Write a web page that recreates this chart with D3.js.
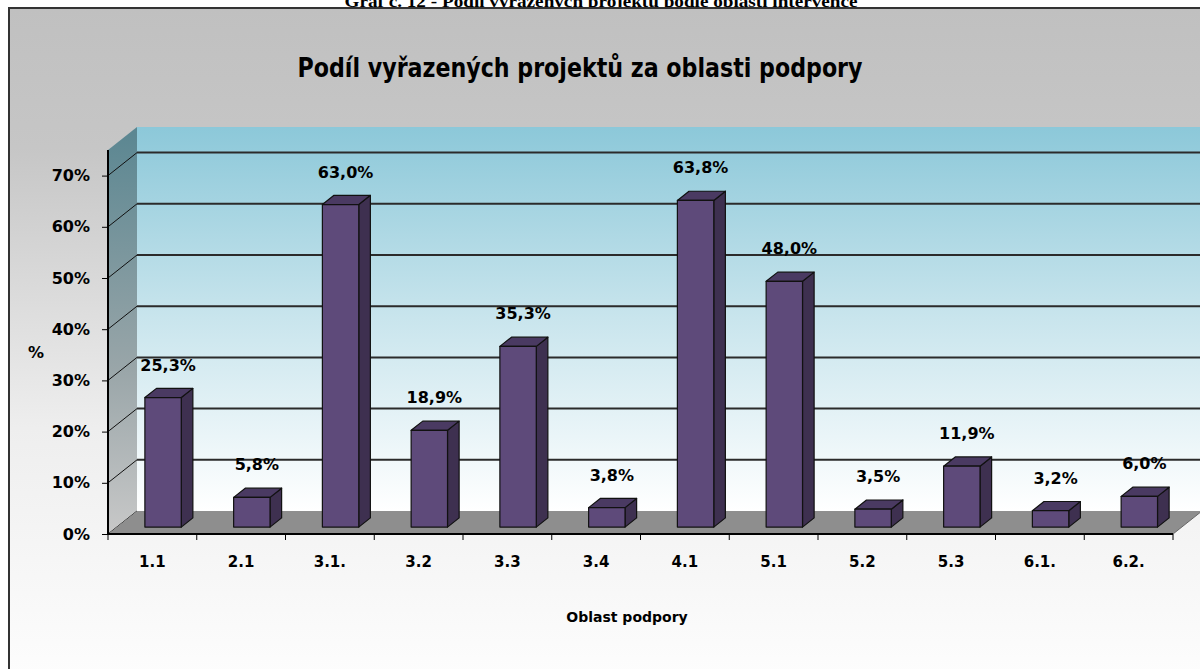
<!DOCTYPE html>
<html>
<head>
<meta charset="utf-8">
<script src="https://cdn.jsdelivr.net/npm/d3@7"></script>
<style>
  body { margin: 0; background: #fff; }
  svg { display: block; }
  text { font-family: "DejaVu Sans", Verdana, sans-serif; font-weight: bold; fill: #000; }
</style>
</head>
<body>
<svg id="chart" width="1200" height="669"></svg>
<script>
// data
var categories = ["1.1", "2.1", "3.1.", "3.2", "3.3", "3.4", "4.1", "5.1", "5.2", "5.3", "6.1.", "6.2."];
var values = [0.253, 0.058, 0.630, 0.189, 0.353, 0.038, 0.638, 0.480, 0.035, 0.119, 0.032, 0.060];
var valueLabels = ["25,3%", "5,8%", "63,0%", "18,9%", "35,3%", "3,8%", "63,8%", "48,0%", "3,5%", "11,9%", "3,2%", "6,0%"];
var yTicks = [0, 0.1, 0.2, 0.3, 0.4, 0.5, 0.6, 0.7];
var yMax = 0.75;

var svg = d3.select("#chart");
var defs = svg.append("defs");

function grad(id, stops) {
  var g = defs.append("linearGradient").attr("id", id)
    .attr("x1", 0).attr("y1", 0).attr("x2", 0).attr("y2", 1);
  stops.forEach(function(s) {
    g.append("stop").attr("offset", s[0]).attr("stop-color", s[1]);
  });
}
grad("bgGrad", [[0, "#c0c0c0"], [0.2, "#c6c6c6"], [0.6, "#eeeeee"], [1, "#ffffff"]]);
grad("wallGrad", [[0, "#8cc8d9"], [0.5, "#c9e5ed"], [1, "#ffffff"]]);
grad("sideGrad", [[0, "#5a8691"], [0.6, "#9aa6a9"], [1, "#c8c8c8"]]);

// caption above the chart frame (cut at the top, as in the source)
svg.append("text")
  .attr("x", 601).attr("y", 7)
  .attr("text-anchor", "middle")
  .style("font-family", "'Liberation Serif', 'Times New Roman', serif")
  .style("font-size", "17px")
  .attr("textLength", 513).attr("lengthAdjust", "spacingAndGlyphs")
  .text("Graf č. 12 - Podíl vyřazených projektů podle oblasti intervence");

// chart frame
svg.append("rect")
  .attr("x", 9).attr("y", 8)
  .attr("width", 1200).attr("height", 700)
  .attr("fill", "url(#bgGrad)")
  .attr("stroke", "#333").attr("stroke-width", 2);

svg.append("text")
  .attr("x", 580).attr("y", 77)
  .attr("text-anchor", "middle")
  .style("font-size", "26px")
  .attr("textLength", 565).attr("lengthAdjust", "spacingAndGlyphs")
  .text("Podíl vyřazených projektů za oblasti podpory");

var left = 108, right = 1173, bottom = 534;
var depth = {dx: 29, dy: -23};

var x = d3.scaleBand().domain(categories).range([left, right]);
var y = d3.scaleLinear().domain([0, yMax]).range([bottom, bottom - 7.5 * 51.2]);

function pt(px, py, f) {
  return [px + f * depth.dx, py + f * depth.dy];
}
function poly(pts) {
  return pts.map(function(p) { return p.join(","); }).join(" ");
}

// back wall
var wTop = pt(left, y(yMax), 1), wBot = pt(left, y(0), 1);
svg.append("rect")
  .attr("x", wTop[0]).attr("y", wTop[1])
  .attr("width", 1300 - wTop[0]).attr("height", wBot[1] - wTop[1])
  .attr("fill", "url(#wallGrad)");

// side wall
svg.append("polygon")
  .attr("points", poly([pt(left, y(yMax), 0), pt(left, y(yMax), 1), pt(left, y(0), 1), pt(left, y(0), 0)]))
  .attr("fill", "url(#sideGrad)");

// gridlines on back wall and side wall
yTicks.forEach(function(t) {
  var a = pt(left, y(t), 0), b = pt(left, y(t), 1);
  svg.append("line")
    .attr("x1", a[0]).attr("y1", a[1]).attr("x2", b[0]).attr("y2", b[1])
    .attr("stroke", "#111").attr("stroke-width", 1);
  if (t > 0) {
    svg.append("line")
      .attr("x1", b[0]).attr("y1", b[1]).attr("x2", 1300).attr("y2", b[1])
      .attr("stroke", "#2b2b2b").attr("stroke-width", 2);
  }
});

// floor
svg.append("polygon")
  .attr("points", poly([pt(left, y(0), 0), pt(right, y(0), 0), pt(right, y(0), 1), pt(left, y(0), 1)]))
  .attr("fill", "#8e8e8e");
var fr0 = pt(right, y(0), 0), fr1 = pt(right, y(0), 1);
svg.append("line")
  .attr("x1", fr0[0]).attr("y1", fr0[1]).attr("x2", fr1[0]).attr("y2", fr1[1])
  .attr("stroke", "#666").attr("stroke-width", 1);

// bars
var bw = x.bandwidth() * 0.41;
var f0 = 0.3, f1 = 0.7;
var bars = svg.append("g").selectAll("g")
  .data(values)
  .enter().append("g");

function barX(d, i) { return x(categories[i]) + x.bandwidth() / 2 - bw / 2 + 2; }

bars.append("polygon") // side
  .attr("points", function(d, i) {
    var x1 = barX(d, i) + bw;
    return poly([pt(x1, y(d), f0), pt(x1, y(d), f1), pt(x1, y(0), f1), pt(x1, y(0), f0)]);
  })
  .attr("fill", "#3e3050").attr("stroke", "#111").attr("stroke-width", 1.2).attr("stroke-linejoin", "round");
bars.append("polygon") // top
  .attr("points", function(d, i) {
    var x0 = barX(d, i), x1 = x0 + bw;
    return poly([pt(x0, y(d), f0), pt(x1, y(d), f0), pt(x1, y(d), f1), pt(x0, y(d), f1)]);
  })
  .attr("fill", "#4a3a62").attr("stroke", "#111").attr("stroke-width", 1.2).attr("stroke-linejoin", "round");
bars.append("polygon") // front
  .attr("points", function(d, i) {
    var x0 = barX(d, i), x1 = x0 + bw;
    return poly([pt(x0, y(d), f0), pt(x1, y(d), f0), pt(x1, y(0), f0), pt(x0, y(0), f0)]);
  })
  .attr("fill", "#5e4a7a").attr("stroke", "#111").attr("stroke-width", 1.2).attr("stroke-linejoin", "round");

// value labels
bars.append("text")
  .attr("x", function(d, i) { return pt(barX(d, i) + bw / 2, 0, f0)[0] + 5; })
  .attr("y", function(d) { return pt(0, y(d), f0)[1] - 27; })
  .attr("text-anchor", "middle")
  .style("font-size", "16px")
  .text(function(d, i) { return valueLabels[i]; });

// y axis
var yAxis = d3.axisLeft(y)
  .tickValues(yTicks)
  .tickFormat(d3.format(".0%"))
  .tickSize(6).tickPadding(12);
var ya = svg.append("g").attr("transform", "translate(" + left + ",0)").call(yAxis);
ya.select(".domain").attr("stroke", "#000").attr("stroke-width", 2)
  .attr("d", "M0," + y(yMax) + "V" + y(0));
ya.selectAll(".tick line").attr("stroke", "#000");
ya.selectAll(".tick text")
  .style("font-family", "'DejaVu Sans', Verdana, sans-serif")
  .style("font-weight", "bold").style("font-size", "16px");
ya.attr("font-size", null).attr("font-family", null);

// x axis
svg.append("line")
  .attr("x1", left).attr("y1", bottom).attr("x2", right).attr("y2", bottom)
  .attr("stroke", "#000").attr("stroke-width", 2);
var bounds = categories.map(function(c) { return x(c); }).concat([right]);
svg.append("g").selectAll("line")
  .data(bounds)
  .enter().append("line")
  .attr("x1", function(d) { return d; }).attr("x2", function(d) { return d; })
  .attr("y1", bottom).attr("y2", bottom + 6)
  .attr("stroke", "#000");
svg.append("g").selectAll("text")
  .data(categories)
  .enter().append("text")
  .attr("x", function(d) { return x(d) + x.bandwidth() / 2; })
  .attr("y", 567)
  .attr("text-anchor", "middle")
  .style("font-size", "15px")
  .text(function(d) { return d; });

// axis titles
svg.append("text")
  .attr("x", 36).attr("y", 358)
  .attr("text-anchor", "middle")
  .style("font-size", "16px")
  .text("%");
svg.append("text")
  .attr("x", 627).attr("y", 622)
  .attr("text-anchor", "middle")
  .style("font-size", "14px")
  .text("Oblast podpory");
</script>
</body>
</html>
